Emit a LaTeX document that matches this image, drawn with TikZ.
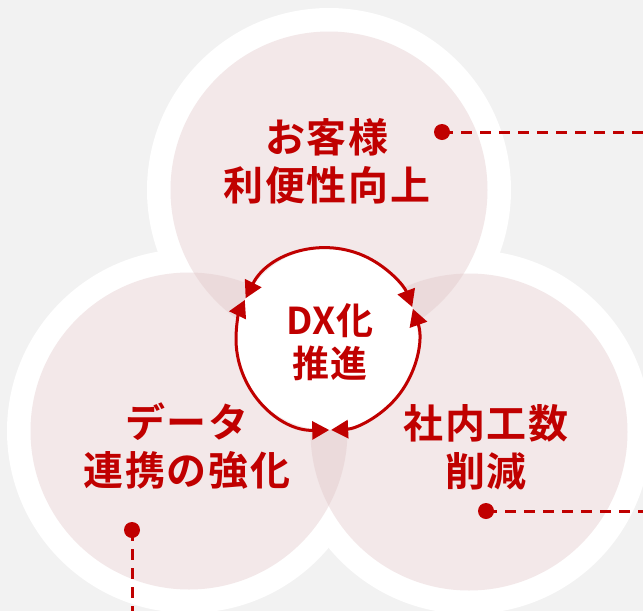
\documentclass[tikz,border=0pt]{standalone}
\usepackage{fontspec}
\newfontfamily\jp{Noto Sans CJK JP}[BoldFont={Noto Sans CJK JP Bold}, LetterSpace=4]
\newfontfamily\jpc{Noto Sans CJK JP}[BoldFont={Noto Sans CJK JP Bold}, LetterSpace=2]
\usetikzlibrary{arrows.meta}
\definecolor{bg}{HTML}{F2F2F2}
\definecolor{dxred}{HTML}{C00000}
\definecolor{pinkc}{RGB}{225,198,200}
\begin{document}
\begin{tikzpicture}[x=1pt,y=-1pt,
  disk/.style={fill=pinkc, fill opacity=0.4},
  lbl/.style={text=dxred, align=center, inner sep=0pt, font=\jp\bfseries\fontsize{40}{48}\selectfont},
  clbl/.style={text=dxred, align=center, inner sep=0pt, font=\jpc\bfseries\fontsize{37}{43}\selectfont},
  dotn/.style={circle, fill=dxred, inner sep=0pt, minimum size=16pt},
  leader/.style={draw=dxred, line width=3pt, dash pattern=on 11pt off 8pt},
  cyc/.style={draw=dxred, line width=3pt, {Triangle[length=17pt,width=18pt]}-{Triangle[length=17pt,width=18pt]}}
]
\useasboundingbox (0,0) rectangle (643,611);
\clip (0,0) rectangle (643,611);
\fill[bg] (0,0) rectangle (643,611);
\coordinate (ct) at (329,190);
\coordinate (cl) at (189,431);
\coordinate (cr) at (469,432);
\foreach \c in {ct,cl,cr} \fill[white] (\c) circle[radius=182];
\foreach \c in {ct,cl,cr} \fill[disk] (\c) circle[radius=158.5];
\node[circle, fill=white, minimum size=182pt, inner sep=0pt] (hub) at (327,339) {};
\draw[cyc] ([shift={(88.6:91)}]hub.center) arc[start angle=88.6, end angle=205.4, radius=91];
\draw[cyc] ([shift={(206.6:91)}]hub.center) arc[start angle=206.6, end angle=339.4, radius=91];
\draw[cyc] ([shift={(340.6:91)}]hub.center) arc[start angle=340.6, end angle=447.4, radius=91];
\node[clbl] (dx) at (330,342) {DX化\\推進};
\node[lbl] (cust) at (327,161) {お客様\\利便性向上};
\node[lbl] (data) at (187,446) {データ\\連携の強化};
\node[lbl] (cost) at (486,447) {社内工数\\削減};
\node[dotn] (p1) at (442,132) {};
\node[dotn] (p2) at (132,530) {};
\node[dotn] (p3) at (486,511) {};
\coordinate (q1) at (643,132);
\coordinate (q2) at (132,611);
\coordinate (q3) at (643,511);
\draw[leader] (p1.center) -- (q1);
\draw[leader] (p2.center) -- (q2);
\draw[leader] (p3.center) -- (q3);
\end{tikzpicture}
\end{document}
